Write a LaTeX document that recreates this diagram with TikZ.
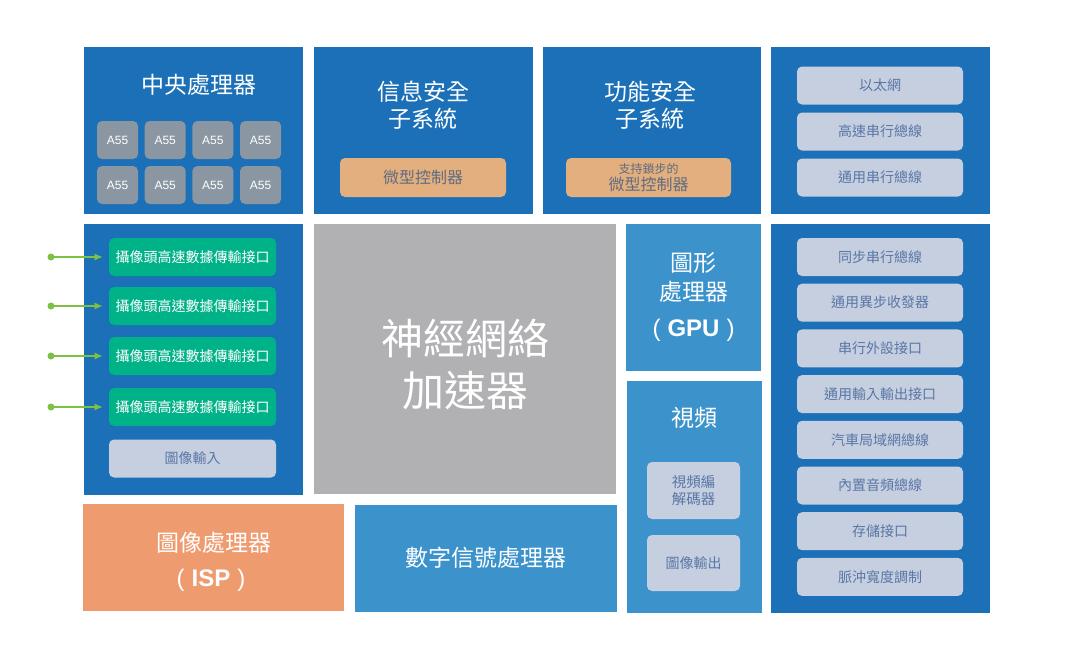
\documentclass[tikz,border=0pt]{standalone}
\usepackage{fontspec}
\setmainfont{Liberation Sans}
\newfontfamily\cjk{Noto Sans CJK TC}
\usetikzlibrary{arrows.meta}

\definecolor{deepblue}{HTML}{1B70B8}
\definecolor{skyblue}{HTML}{3C93CC}
\definecolor{nngray}{HTML}{B1B1B4}
\definecolor{ispred}{HTML}{EF9B70}
\definecolor{mcutan}{HTML}{E3AF7E}
\definecolor{palebox}{HTML}{C5CFDF}
\definecolor{paletext}{HTML}{5A76A6}
\definecolor{mcutext}{HTML}{5F6B80}
\definecolor{coregray}{HTML}{8A97A3}
\definecolor{camgreen}{HTML}{00B288}
\definecolor{wiregreen}{HTML}{7CC142}

\begin{document}
\begin{tikzpicture}[x=1pt,y=-1pt,>={Latex[length=8pt,width=7pt]},semithick]
  \tikzstyle{block}=[draw=none,inner sep=0pt,align=center,text=white]
  \tikzstyle{panel}=[block,fill=deepblue]
  \tikzstyle{lightpanel}=[block,fill=skyblue]
  \tikzstyle{title}=[block,font=\cjk\fontsize{23}{27}\selectfont]
  \tikzstyle{pill}=[block,rounded corners=5pt,minimum width=166pt,
    minimum height=38pt,fill=palebox,text=paletext,
    font=\cjk\fontsize{14}{16}\selectfont]
  \tikzstyle{campill}=[pill,fill=camgreen,text=white,minimum width=167pt]
  \tikzstyle{mcubox}=[pill,fill=mcutan,text=mcutext,minimum height=39pt,
    font=\cjk\fontsize{16}{17}\selectfont]
  \tikzstyle{core}=[block,rounded corners=5pt,fill=coregray,
    minimum width=41pt,minimum height=38pt,font=\fontsize{12}{14}\selectfont]
  \tikzstyle{wire}=[->,wiregreen,line width=1.4pt,shorten >=6pt]
  \tikzstyle{abbr}=[block,font=\fontsize{24}{28}\selectfont]

  \fill[white] (0,0) rectangle (1080,657);
  \useasboundingbox (0,0) rectangle (1080,657);

  % top row
  \node[panel,minimum width=219pt,minimum height=167pt] (cpu) at (193.5,130.5) {};
  \node[panel,minimum width=219pt,minimum height=167pt] (sec) at (423.5,130.5) {};
  \node[panel,minimum width=218pt,minimum height=167pt] (func) at (652,130.5) {};
  \node[panel,minimum width=219pt,minimum height=167pt] (bustop) at (880.5,130.5) {};

  % middle and bottom
  \node[panel,minimum width=219pt,minimum height=271pt] (cam) at (193.5,359.5) {};
  \node[block,fill=nngray,minimum width=302pt,minimum height=270pt] (nn) at (465,359) {};
  \node[lightpanel,minimum width=135pt,minimum height=147pt] (gpu) at (693.5,297.5) {};
  \node[lightpanel,minimum width=135pt,minimum height=232pt] (video) at (694.5,497) {};
  \node[panel,minimum width=219pt,minimum height=389pt] (busbot) at (880.5,418.5) {};
  \node[block,fill=ispred,minimum width=261pt,minimum height=107pt] (isp) at (213.5,557.5) {};
  \node[lightpanel,minimum width=262pt,minimum height=107pt] (dsp) at (486,558.5) {};

  % CPU
  \node[title] (cputitle) at (199,85) {中央處理器};
  \foreach \c in {0,...,3}
    \foreach \r in {0,1}
      \node[core] (core\r\c) at ({117.5+47.7*\c},{140+45*\r}) {A55};

  % safety subsystems
  \node[title] (sectitle) at (423,105.5) {信息安全\\子系統};
  \node[mcubox] (secmcu) at (423,177.5) {微型控制器};
  \node[title] (functitle) at (650,105.5) {功能安全\\子系統};
  \node[mcubox,minimum width=165pt] (funcmcu) at (648.5,177.5)
    {{\fontsize{12}{14}\selectfont 支持鎖步的}\\[0pt]微型控制器};

  % buses
  \foreach \txt [count=\k from 0] in {以太網,高速串行總線,通用串行總線}
    \node[pill] (net\k) at (880,{85.5+46*\k}) {\txt};
  \foreach \txt [count=\k from 0] in {同步串行總線,通用異步收發器,串行外設接口,
      通用輸入輸出接口,汽車局域網總線,內置音頻總線,存儲接口,脈沖寬度調制}
    \node[pill] (io\k) at (880,{257+45.7*\k}) {\txt};

  % camera inputs
  \foreach \k/\yy in {1/257,2/306,3/356,4/407} {
    \node[campill] (mipi\k) at (192.5,\yy) {攝像頭高速數據傳輸接口};
    \coordinate (src\k) at (51,\yy);
    \fill[wiregreen] (src\k) circle (3.5pt);
    \draw[wire] (src\k) -- (mipi\k.west);
  }
  \node[pill,minimum width=167pt] (imgin) at (192.5,458.5) {圖像輸入};

  % neural network accelerator
  \node[block,font=\cjk\fontsize{42}{52}\selectfont] (nntext) at (465,364) {神經網絡\\加速器};

  % GPU
  \node[title,font=\cjk\fontsize{23}{29}\selectfont] (gputitle) at (693.5,277.5) {圖形\\處理器};
  \node[abbr] (gpuname) at (693.5,330)
    {(\hspace{7pt}\textbf{GPU}\hspace{7pt})};

  % video
  \node[title] (videotitle) at (694.5,418) {視頻};
  \node[pill,minimum width=93pt,minimum height=57pt,
    font=\cjk\fontsize{14.5}{17}\selectfont] (codec) at (693.5,490.5) {視頻編\\解碼器};
  \node[pill,minimum width=93pt,minimum height=56pt] (imgout) at (693.5,563) {圖像輸出};

  % ISP and DSP
  \node[title] (isptitle) at (213.5,543) {圖像處理器};
  \node[abbr] (ispname) at (211,580)
    {(\hspace{7pt}\textbf{ISP}\hspace{7pt})};
  \node[title] (dsptitle) at (486,558) {數字信號處理器};
\end{tikzpicture}
\end{document}
